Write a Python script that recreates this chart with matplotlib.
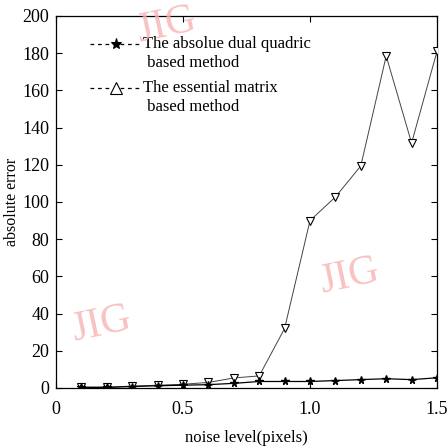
import numpy as np
import matplotlib
matplotlib.use('Agg')
from matplotlib import pyplot as plt

plt.rcParams['font.family'] = ['Liberation Serif', 'DejaVu Serif']

# noise level (pixels) and absolute error of the two methods
noise = [0.1, 0.2, 0.3, 0.4, 0.5, 0.6, 0.7, 0.8, 0.9, 1.0, 1.1, 1.2, 1.3, 1.4, 1.5]
err_dual_quadric = [0.3, 0.3, 0.8, 1.2, 1.5, 1.8, 2.5, 3.5, 3.5, 3.5, 4.0, 4.5, 5.0, 4.5, 5.5]
err_essential = [0.5, 0.5, 1.0, 1.5, 2.0, 3.0, 5.4, 6.5, 32.0, 90.0, 102.7, 119.4, 178.5, 131.7, 181.0]

x_ticks = [0, 0.5, 1.0, 1.5]
x_tick_labels = ['0', '0.5', '1.0', '1.5']
y_ticks = list(range(0, 201, 20))
legend_labels = [('The absolue dual quadric', ' based method'),
                 ('The essential matrix', ' based method')]

fig = plt.figure(figsize=(4.47, 4.47), dpi=100)
ax = fig.add_axes([56/447, 59/447, 381/447, 372/447])

ax.plot(noise, err_essential, color='#444444', lw=0.7, marker='v', ms=5.5,
        mfc='white', mec='black', mew=0.8, zorder=3)
ax.plot(noise, err_dual_quadric, color='black', lw=0.9, marker='*', ms=5.5,
        mfc='black', mec='black', zorder=4)

ax.set_xlim(0, 1.5)
ax.set_ylim(0, 200)
ax.set_xticks(x_ticks)
ax.set_xticklabels(x_tick_labels)
ax.set_yticks(y_ticks)
ax.tick_params(direction='in', top=True, right=True, labelsize=13, length=4, width=0.8)
ax.tick_params(axis='x', pad=9)
ax.tick_params(axis='y', pad=5)
for s in ax.spines.values():
    s.set_linewidth(0.9)

ax.set_xlabel('noise level(pixels)', fontsize=12, labelpad=9)
ax.set_ylabel('absolute error', fontsize=11.5)
ax.yaxis.set_label_coords(-0.095, 0.5)

# hand-made legend: dashed sample with marker, two-line caption
legend_y = [0.925, 0.806]
for (mk, mfc, ms), y0, (line1, line2) in zip([('*', 'black', 8), ('^', 'white', 9)],
                                              legend_y, legend_labels):
    ax.plot([0.09, 0.225], [y0, y0], transform=ax.transAxes, color='black',
            lw=0.9, ls=(0, (3, 3)))
    ax.plot([0.157], [y0], transform=ax.transAxes, marker=mk, ms=ms,
            mfc=mfc, mec='black', mew=0.8, ls='none', zorder=5)
    ax.text(0.228, y0, line1, transform=ax.transAxes, fontsize=12,
            va='center', ha='left')
    ax.text(0.228, y0 - 0.051, line2, transform=ax.transAxes, fontsize=12,
            va='center', ha='left')

# JIG watermarks
for (wx, wy) in [(0.29, 0.975), (0.12, 0.17), (0.77, 0.30)]:
    fig.text(wx, wy, 'JIG', transform=ax.transAxes, fontsize=30, color='#f7b3b3',
             rotation=12, ha='center', va='center', alpha=0.8, zorder=0,
             family='Liberation Serif')

fig.savefig('out.png', dpi=100)
